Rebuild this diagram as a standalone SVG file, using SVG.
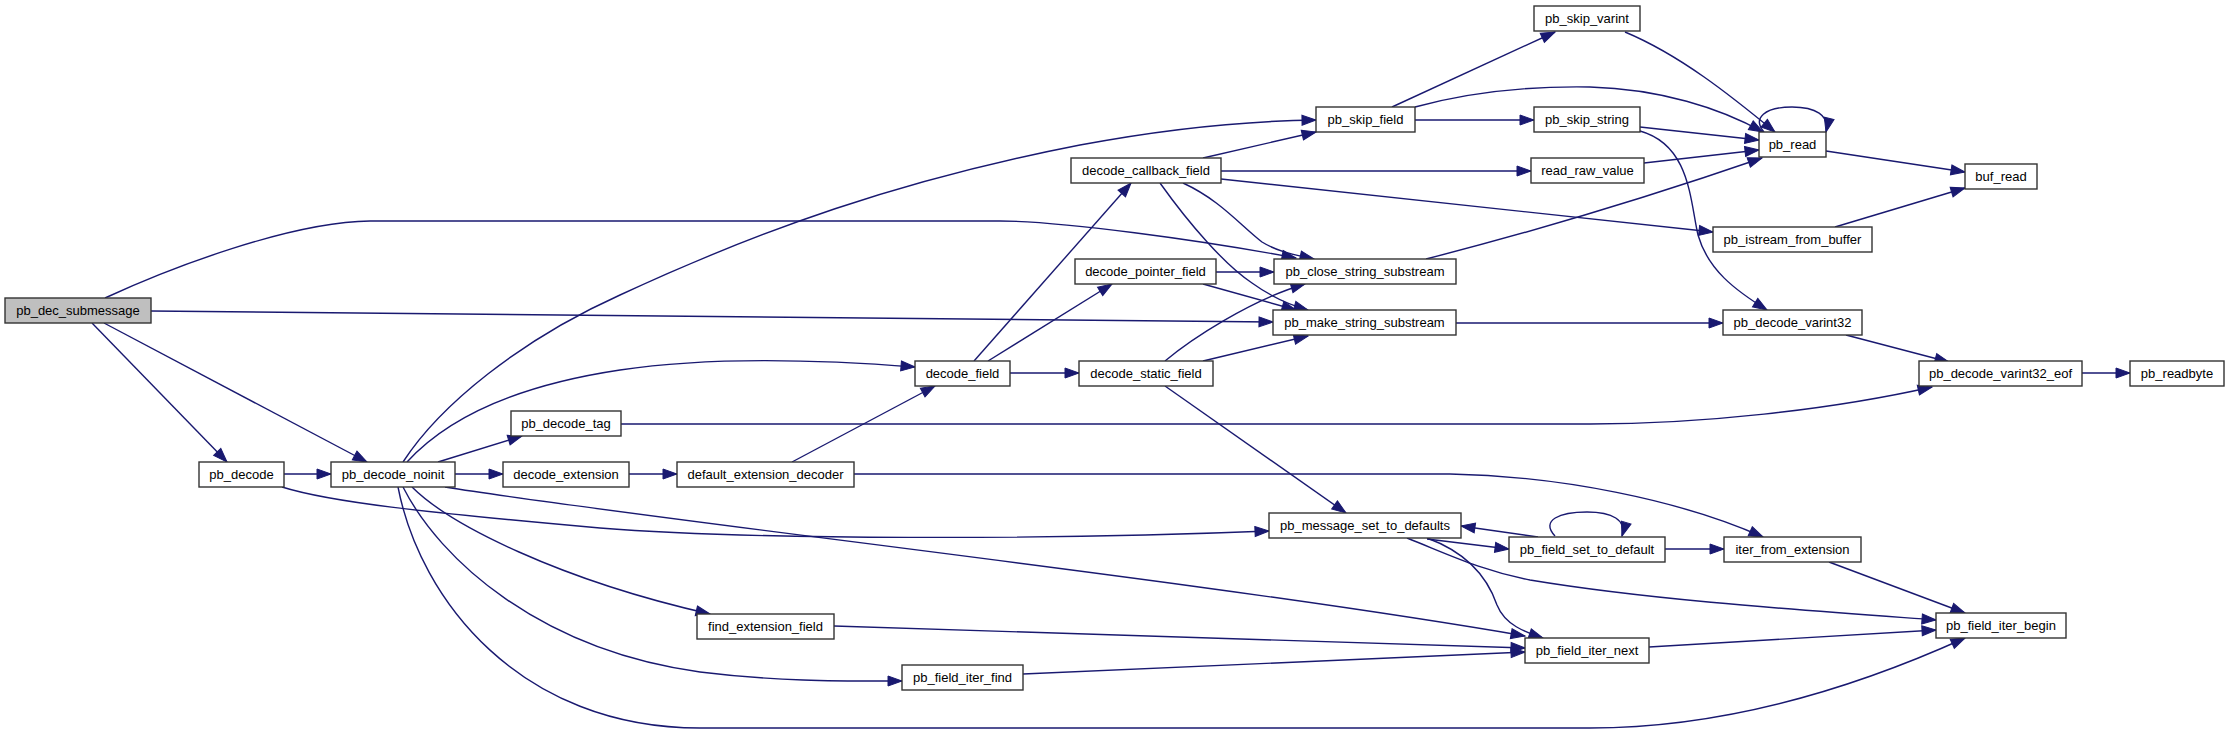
<svg xmlns="http://www.w3.org/2000/svg" width="2229" height="733" viewBox="0 0 2229 733">
<style>
.node rect{fill:#ffffff;stroke:#333333;stroke-width:1.4}
.node.root rect{fill:#bfbfbf}
.node text{font-family:"Liberation Sans",Arial,Helvetica,sans-serif;font-size:13px;fill:#000;text-anchor:middle}
.edges path{fill:none;stroke:#191970;stroke-width:1.4;marker-end:url(#ah)}
</style>
<defs>
<marker id="ah" markerUnits="userSpaceOnUse" markerWidth="15" markerHeight="11" refX="14" refY="5" orient="auto" overflow="visible">
<path d="M0,0 L14,5 L0,10 z" fill="#191970" stroke="#191970" stroke-width="1"/>
</marker>
</defs>
<rect width="2229" height="733" fill="#ffffff"/>
<g class="edges">
<path d="M105,298 C170,268 290,222 370,221 L1000,221 C1060,221 1200,240 1296,258"/>
<path d="M151,311 L1273,322"/>
<path d="M92,323 L227,462"/>
<path d="M104,323 L367,462"/>
<path d="M284,474 L331,474"/>
<path d="M282,487 C330,502 420,512 600,528 C750,540 1050,540 1269,531"/>
<path d="M403,462 C440,405 520,340 620,295 C760,230 900,180 1080,145 C1160,130 1240,121 1316,120"/>
<path d="M407,462 C450,415 520,385 620,370 C700,358 800,358 915,367"/>
<path d="M438,462 L522,436"/>
<path d="M455,474 L503,474"/>
<path d="M445,487 C650,520 1200,580 1525,636"/>
<path d="M412,487 C450,525 560,580 710,614"/>
<path d="M403,487 C440,560 540,650 700,672 C780,682 850,681 902,681"/>
<path d="M398,487 C420,600 520,728 700,728 L1590,728 C1720,728 1850,690 1965,638"/>
<path d="M629,474 L677,474"/>
<path d="M792,462 L935,386"/>
<path d="M854,474 L1450,474 C1560,476 1680,500 1763,537"/>
<path d="M621,424 L1590,424 C1700,424 1830,410 1932,387"/>
<path d="M834,626 L1525,648"/>
<path d="M1023,674 L1525,652"/>
<path d="M974,361 L1131,183"/>
<path d="M988,361 L1112,284"/>
<path d="M1010,373 L1079,373"/>
<path d="M1165,361 C1190,340 1250,300 1305,284"/>
<path d="M1203,361 L1308,336"/>
<path d="M1165,386 L1346,513"/>
<path d="M1203,158 L1316,132"/>
<path d="M1221,171 L1531,171"/>
<path d="M1221,179 L1713,232"/>
<path d="M1183,183 C1220,200 1240,225 1262,242 C1278,252 1296,255 1314,259"/>
<path d="M1160,183 C1190,225 1225,265 1252,283 C1270,296 1290,305 1308,310"/>
<path d="M1216,272 L1274,272"/>
<path d="M1203,284 L1296,310"/>
<path d="M1392,107 L1555,32"/>
<path d="M1415,107 C1470,92 1530,86 1590,87 C1660,89 1720,108 1763,132"/>
<path d="M1415,120 L1534,120"/>
<path d="M1625,32 C1680,55 1730,95 1775,132"/>
<path d="M1640,127 L1759,140"/>
<path d="M1640,131 C1690,145 1690,200 1698,235 C1708,270 1735,290 1767,310"/>
<path d="M1644,163 L1759,150"/>
<path d="M1426,259 C1520,235 1640,200 1762,158"/>
<path d="M1764,132 C1752,118 1765,107 1792,107 C1815,107 1830,115 1826,132"/>
<path d="M1826,151 L1965,172"/>
<path d="M1835,227 L1965,188"/>
<path d="M1456,323 L1723,323"/>
<path d="M1846,335 L1949,362"/>
<path d="M2082,373 L2130,373"/>
<path d="M1427,539 L1509,549"/>
<path d="M1538,537 L1461,526"/>
<path d="M1555,536 C1540,520 1560,512 1587,512 C1612,512 1627,520 1622,536"/>
<path d="M1665,549 L1724,549"/>
<path d="M1829,562 L1965,613"/>
<path d="M1427,538 C1460,550 1485,570 1497,605 C1505,625 1525,632 1543,638"/>
<path d="M1407,538 C1450,555 1480,570 1530,580 C1650,600 1800,610 1936,620"/>
<path d="M1649,647 L1936,630"/>
</g>
<g id="n_pb_dec_submessage" class="node root"><rect x="5" y="298" width="146" height="25"/><text x="78" y="315">pb_dec_submessage</text></g>
<g id="n_pb_decode" class="node"><rect x="199" y="462" width="85" height="25"/><text x="241.5" y="479">pb_decode</text></g>
<g id="n_pb_decode_noinit" class="node"><rect x="331" y="462" width="124" height="25"/><text x="393" y="479">pb_decode_noinit</text></g>
<g id="n_pb_decode_tag" class="node"><rect x="511" y="411" width="110" height="25"/><text x="566" y="428">pb_decode_tag</text></g>
<g id="n_decode_extension" class="node"><rect x="503" y="462" width="126" height="25"/><text x="566" y="479">decode_extension</text></g>
<g id="n_default_extension_decoder" class="node"><rect x="677" y="462" width="177" height="25"/><text x="765.5" y="479">default_extension_decoder</text></g>
<g id="n_find_extension_field" class="node"><rect x="697" y="614" width="137" height="25"/><text x="765.5" y="631">find_extension_field</text></g>
<g id="n_decode_field" class="node"><rect x="915" y="361" width="95" height="25"/><text x="962.5" y="378">decode_field</text></g>
<g id="n_decode_static_field" class="node"><rect x="1079" y="361" width="134" height="25"/><text x="1146" y="378">decode_static_field</text></g>
<g id="n_decode_callback_field" class="node"><rect x="1071" y="158" width="150" height="25"/><text x="1146" y="175">decode_callback_field</text></g>
<g id="n_decode_pointer_field" class="node"><rect x="1075" y="259" width="141" height="25"/><text x="1145.5" y="276">decode_pointer_field</text></g>
<g id="n_pb_field_iter_find" class="node"><rect x="902" y="665" width="121" height="25"/><text x="962.5" y="682">pb_field_iter_find</text></g>
<g id="n_pb_skip_field" class="node"><rect x="1316" y="107" width="99" height="25"/><text x="1365.5" y="124">pb_skip_field</text></g>
<g id="n_pb_close_string_substream" class="node"><rect x="1274" y="259" width="182" height="25"/><text x="1365" y="276">pb_close_string_substream</text></g>
<g id="n_pb_make_string_substream" class="node"><rect x="1273" y="310" width="183" height="25"/><text x="1364.5" y="327">pb_make_string_substream</text></g>
<g id="n_pb_message_set_to_defaults" class="node"><rect x="1269" y="513" width="192" height="25"/><text x="1365" y="530">pb_message_set_to_defaults</text></g>
<g id="n_pb_skip_varint" class="node"><rect x="1534" y="6" width="106" height="25"/><text x="1587" y="23">pb_skip_varint</text></g>
<g id="n_pb_skip_string" class="node"><rect x="1534" y="107" width="106" height="25"/><text x="1587" y="124">pb_skip_string</text></g>
<g id="n_read_raw_value" class="node"><rect x="1531" y="158" width="113" height="25"/><text x="1587.5" y="175">read_raw_value</text></g>
<g id="n_pb_field_set_to_default" class="node"><rect x="1509" y="537" width="156" height="25"/><text x="1587" y="554">pb_field_set_to_default</text></g>
<g id="n_pb_field_iter_next" class="node"><rect x="1525" y="638" width="124" height="25"/><text x="1587" y="655">pb_field_iter_next</text></g>
<g id="n_pb_read" class="node"><rect x="1759" y="132" width="67" height="25"/><text x="1792.5" y="149">pb_read</text></g>
<g id="n_pb_istream_from_buffer" class="node"><rect x="1713" y="227" width="159" height="25"/><text x="1792.5" y="244">pb_istream_from_buffer</text></g>
<g id="n_pb_decode_varint32" class="node"><rect x="1723" y="310" width="139" height="25"/><text x="1792.5" y="327">pb_decode_varint32</text></g>
<g id="n_iter_from_extension" class="node"><rect x="1724" y="537" width="137" height="25"/><text x="1792.5" y="554">iter_from_extension</text></g>
<g id="n_buf_read" class="node"><rect x="1965" y="164" width="72" height="25"/><text x="2001" y="181">buf_read</text></g>
<g id="n_pb_decode_varint32_eof" class="node"><rect x="1919" y="361" width="163" height="25"/><text x="2000.5" y="378">pb_decode_varint32_eof</text></g>
<g id="n_pb_field_iter_begin" class="node"><rect x="1936" y="613" width="130" height="25"/><text x="2001" y="630">pb_field_iter_begin</text></g>
<g id="n_pb_readbyte" class="node"><rect x="2130" y="361" width="94" height="25"/><text x="2177" y="378">pb_readbyte</text></g>
</svg>
